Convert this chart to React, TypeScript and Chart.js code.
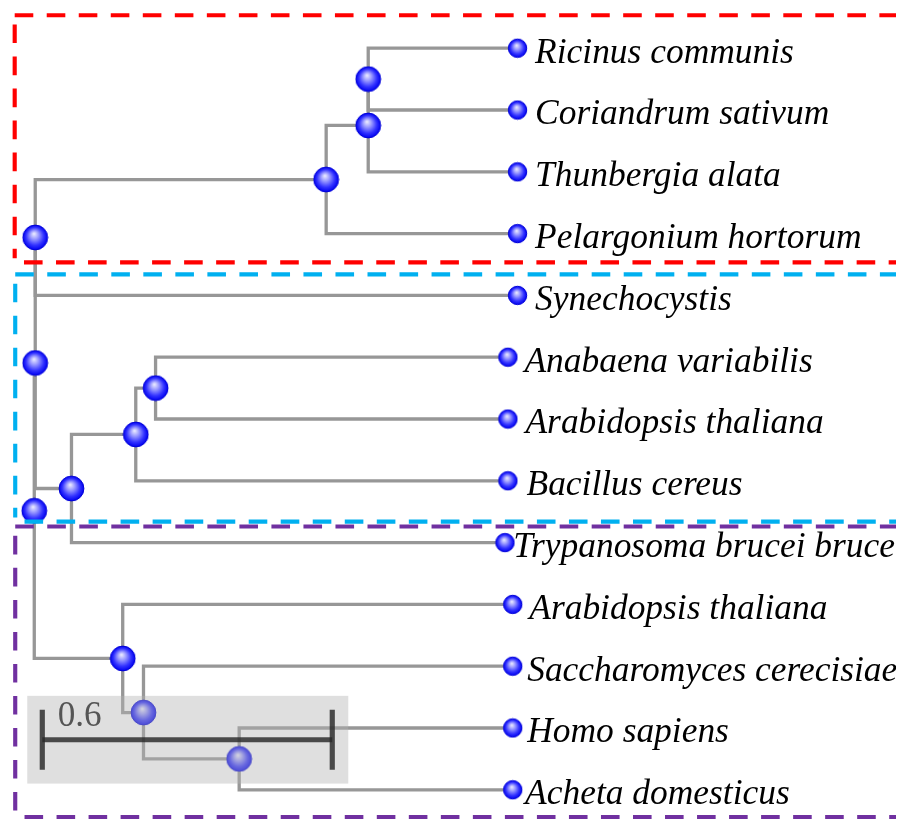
import React, { useEffect, useRef } from "react";
import Chart from "chart.js/auto";

// ---- Data (branch-length depths) ----
const leafNames = [
  "Ricinus communis",
  "Coriandrum sativum",
  "Thunbergia alata",
  "Pelargonium hortorum",
  "Synechocystis",
  "Anabaena variabilis",
  "Arabidopsis thaliana",
  "Bacillus cereus",
  "Trypanosoma brucei brucei",
  "Arabidopsis thaliana",
  "Saccharomyces cerecisiae",
  "Homo sapiens",
  "Acheta domesticus",
];
const leafDepths = [1.0, 1.0, 1.0, 1.0, 1.0, 0.98, 0.98, 0.98, 0.974, 0.99, 0.99, 0.99, 0.99];

// internal nodes (children listed before parents); "L#" = leaf, "N#" = node
const nodeDepths = [0.691, 0.691, 0.604, 0.002, 0.251, 0.21, 0.077, 0.002, 0.424, 0.226, 0.183, 0.0];
const nodeChildren = [
  ["L0", "L1"],
  ["N0", "L2"],
  ["N1", "L3"],
  ["N2", "L4"],
  ["L5", "L6"],
  ["N4", "L7"],
  ["N5", "L8"],
  ["N3", "N6"],
  ["L11", "L12"],
  ["L10", "N8"],
  ["L9", "N9"],
  ["N7", "N10"],
];

const scaleBarValue = 0.6;
const scaleBarLabel = "0.6";

// group boxes (leaf-index ranges)
const groupColors = ["#ff0000", "#00b0f0", "#7030a0"];
const groupTop = [-0.534, 3.66, 7.74];
const groupBottom = [3.466, 7.66, 12.44];
const groupLeft = [-0.0405, -0.0394, -0.0394];

// ---- Layout / style constants ----
const W = 904;
const H = 832;
const S = 1 / 0.968; // pixel size factor
const X0PX = 21.9; // pixel of depth 0
const XUNIT = 497.6; // pixels per unit of depth
const Y0PX = 36.36; // pixel of leaf 0
const YUNIT = 63.79; // pixels per leaf row
const X_MIN = -X0PX / XUNIT;
const X_MAX = (W - X0PX) / XUNIT;
const Y_MIN = -Y0PX / YUNIT;
const Y_MAX = (H - Y0PX) / YUNIT;
const labelGaps = [17, 17, 17, 17, 17, 16, 17, 18, 8, 16, 14, 14, 12];
const BAR_START = 0.0166;
const BAR_Y = 11.19;
const BOX_X0 = -0.0145;
const BOX_X1 = 0.6497;
const BOX_Y0 = 10.48;
const BOX_Y1 = 11.9;

function makeSphere(r: number): HTMLCanvasElement {
  const size = Math.ceil(2 * r + 2);
  const c = document.createElement("canvas");
  c.width = size;
  c.height = size;
  const ctx = c.getContext("2d")!;
  const cx = size / 2;
  const cy = size / 2;
  const g = ctx.createRadialGradient(cx - r * 0.1, cy - r * 0.3, r * 0.05, cx, cy, r);
  g.addColorStop(0, "#e4e4ff");
  g.addColorStop(0.3, "#9c9cff");
  g.addColorStop(0.7, "#3333ff");
  g.addColorStop(1, "#0000f0");
  ctx.beginPath();
  ctx.arc(cx, cy, r, 0, Math.PI * 2);
  ctx.fillStyle = g;
  ctx.fill();
  ctx.lineWidth = 1;
  ctx.strokeStyle = "#0000d8";
  ctx.stroke();
  return c;
}

function resolvePositions() {
  const nodeY: number[] = [];
  const pos = (ref: string) => {
    const idx = parseInt(ref.slice(1), 10);
    if (ref[0] === "L") return { x: leafDepths[idx], y: idx };
    return { x: nodeDepths[idx], y: nodeY[idx] };
  };
  nodeChildren.forEach((ch, j) => {
    const a = pos(ch[0]);
    const b = pos(ch[1]);
    nodeY[j] = (a.y + b.y) / 2;
  });
  return { nodeY, pos };
}

export default function App() {
  const ref = useRef<HTMLCanvasElement | null>(null);

  useEffect(() => {
    if (!ref.current) return;
    const { nodeY, pos } = resolvePositions();

    const branchSets = nodeChildren.map((ch, j) => {
      const a = pos(ch[0]);
      const b = pos(ch[1]);
      const d = nodeDepths[j];
      return {
        type: "scatter" as const,
        data: [
          { x: a.x, y: a.y },
          { x: d, y: a.y },
          { x: d, y: b.y },
          { x: b.x, y: b.y },
        ],
        showLine: true,
        borderColor: "#979797",
        borderWidth: 3.3,
        pointRadius: 0,
        tension: 0,
        borderJoinStyle: "miter" as const,
        borderCapStyle: "butt" as const,
        order: 3,
      };
    });

    const bigSphere = makeSphere(12.4);
    const smallSphere = makeSphere(9.2);

    const nodeSet = {
      type: "scatter" as const,
      data: nodeDepths.map((d, j) => ({ x: d, y: nodeY[j] })),
      pointStyle: bigSphere,
      pointRadius: 12,
      showLine: false,
      order: 1,
    };
    const leafSet = {
      type: "scatter" as const,
      data: leafDepths.map((d, i) => ({ x: d, y: i })),
      pointStyle: smallSphere,
      pointRadius: 9,
      showLine: false,
      order: 2,
    };

    const bgPlugin = {
      id: "bg",
      beforeDraw(chart: any) {
        const ctx = chart.ctx;
        ctx.save();
        ctx.fillStyle = "#ffffff";
        ctx.fillRect(0, 0, chart.width, chart.height);
        ctx.restore();
      },
    };

    const overlayPlugin = {
      id: "overlay",
      afterDatasetsDraw(chart: any) {
        const ctx = chart.ctx;
        const xs = chart.scales.x;
        const ys = chart.scales.y;
        ctx.save();

        // scale bar box
        const bx0 = xs.getPixelForValue(BOX_X0);
        const bx1 = xs.getPixelForValue(BOX_X1);
        const by0 = ys.getPixelForValue(BOX_Y0);
        const by1 = ys.getPixelForValue(BOX_Y1);
        ctx.fillStyle = "rgba(178,178,178,0.42)";
        ctx.fillRect(bx0, by0, bx1 - bx0, by1 - by0);

        // scale bar
        const x0 = xs.getPixelForValue(BAR_START);
        const x1 = xs.getPixelForValue(BAR_START + scaleBarValue);
        const yb = ys.getPixelForValue(BAR_Y);
        ctx.strokeStyle = "rgba(40,40,40,0.82)";
        ctx.lineWidth = 5 * S;
        ctx.beginPath();
        ctx.moveTo(x0, yb);
        ctx.lineTo(x1, yb);
        ctx.stroke();
        const th = 29 * S;
        ctx.beginPath();
        ctx.moveTo(x0, yb - th);
        ctx.lineTo(x0, yb + th);
        ctx.moveTo(x1, yb - th);
        ctx.lineTo(x1, yb + th);
        ctx.stroke();
        ctx.fillStyle = "#555555";
        ctx.font = `${34 * S}px "Liberation Serif", "Times New Roman", serif`;
        ctx.textBaseline = "alphabetic";
        ctx.textAlign = "left";
        ctx.fillText(scaleBarLabel, x0 + 15 * S, yb - 13 * S);

        // group dashed boxes
        ctx.lineWidth = 4 * S;
        ctx.setLineDash([18 * S, 13 * S]);
        const right = chart.width + 20;
        groupColors.forEach((col, k) => {
          const l = xs.getPixelForValue(groupLeft[k]);
          const t = ys.getPixelForValue(groupTop[k]);
          const b = ys.getPixelForValue(groupBottom[k]);
          ctx.strokeStyle = col;
          ctx.beginPath();
          ctx.moveTo(l, t);
          ctx.lineTo(right, t);
          ctx.stroke();
          ctx.beginPath();
          ctx.moveTo(l, t + 9 * S);
          ctx.lineTo(l, b - 4 * S);
          ctx.stroke();
          ctx.beginPath();
          ctx.moveTo(l + 9 * S, b);
          ctx.lineTo(right, b);
          ctx.stroke();
        });
        ctx.setLineDash([]);

        // leaf labels
        ctx.fillStyle = "#000000";
        ctx.font = `italic ${34.3 * S}px "Liberation Serif", "Times New Roman", serif`;
        leafNames.forEach((name, i) => {
          const px = xs.getPixelForValue(leafDepths[i]);
          const py = ys.getPixelForValue(i);
          ctx.fillText(name, px + labelGaps[i] * S, py + 14 * S);
        });
        ctx.restore();
      },
    };

    const chart = new Chart(ref.current, {
      type: "scatter",
      data: { datasets: [...branchSets, leafSet, nodeSet] as any },
      options: {
        animation: false,
        responsive: false,
        devicePixelRatio: 1,
        layout: { padding: 0 },
        events: [],
        scales: {
          x: { type: "linear", min: X_MIN, max: X_MAX, display: false },
          y: { type: "linear", min: Y_MIN, max: Y_MAX, reverse: true, display: false },
        },
        plugins: {
          legend: { display: false },
          tooltip: { enabled: false },
        },
      },
      plugins: [bgPlugin, overlayPlugin],
    });
    return () => chart.destroy();
  }, []);

  return (
    <div style={{ margin: -8, width: W, height: H, overflow: "hidden" }}>
      <canvas ref={ref} width={W} height={H} style={{ display: "block", width: W, height: H }} />
    </div>
  );
}
